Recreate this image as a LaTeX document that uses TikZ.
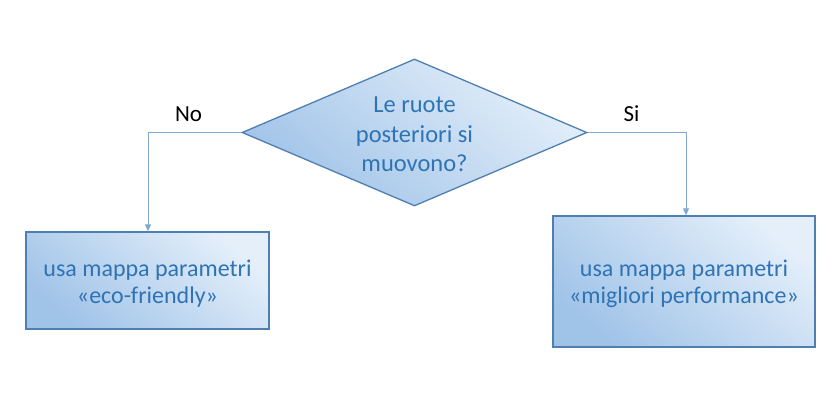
\documentclass[tikz,border=0pt]{standalone}
\usepackage{fontspec}
\setmainfont{Carlito}
\usetikzlibrary{shapes.geometric,arrows.meta}
\definecolor{boxborder}{HTML}{4F7FB0}
\definecolor{boxdark}{HTML}{A0C3E8}
\definecolor{boxlight}{HTML}{E4EFFA}
\definecolor{txtblue}{HTML}{2E74B5}
\definecolor{linkblue}{HTML}{82A8D2}
\tikzset{
  decision/.style={draw=boxborder, line width=1.3pt, shape=diamond,
    minimum width=345pt, minimum height=147pt, inner sep=0pt, aspect=2.35,
    top color=boxlight, bottom color=boxdark, shading angle=-40},
  actionbox/.style={draw=boxborder, line width=1.3pt, rectangle, inner sep=0pt,
    top color=boxlight, bottom color=boxdark, shading angle=-40},
  qtext/.style={text=txtblue, font=\fontsize{24.5}{29.5}\selectfont, align=center, inner sep=0pt},
  boxtext/.style={text=txtblue, font=\fontsize{24}{27}\selectfont, align=center, inner sep=0pt},
  branchlabel/.style={text=black, font=\fontsize{23}{27}\selectfont, anchor=base, inner sep=0pt},
  link/.style={draw=linkblue, line width=1pt, -{Triangle[length=7pt,width=6pt]}},
}
\begin{document}
\begin{tikzpicture}[x=1pt,y=-1pt]
\useasboundingbox (0,0) rectangle (840,406);
\node[decision] (q) at (414.5,132.5) {};
\node[qtext, yshift=-2pt] (qt) at (q.center) {Le ruote\\posteriori si\\muovono?};
\node[actionbox, minimum width=243pt, minimum height=97pt] (eco) at (147.5,280.5) {};
\node[boxtext, yshift=-3pt] (ecot) at (eco.center) {usa mappa parametri\\«eco-friendly»};
\node[actionbox, minimum width=262pt, minimum height=131pt] (perf) at (684,281.5) {};
\node[boxtext, yshift=-2pt] (perft) at (perf.center) {usa mappa parametri\\«migliori performance»};
\coordinate (lc) at (148,132.5);
\coordinate (rc) at (686,132.5);
\draw[link] (q.west) -- (lc) -- (lc |- eco.north);
\draw[link] (q.east) -- (rc) -- (rc |- perf.north);
\node[branchlabel] (no) at (188.5,122) {No};
\node[branchlabel] (si) at (631.5,122) {Si};
\end{tikzpicture}
\end{document}
